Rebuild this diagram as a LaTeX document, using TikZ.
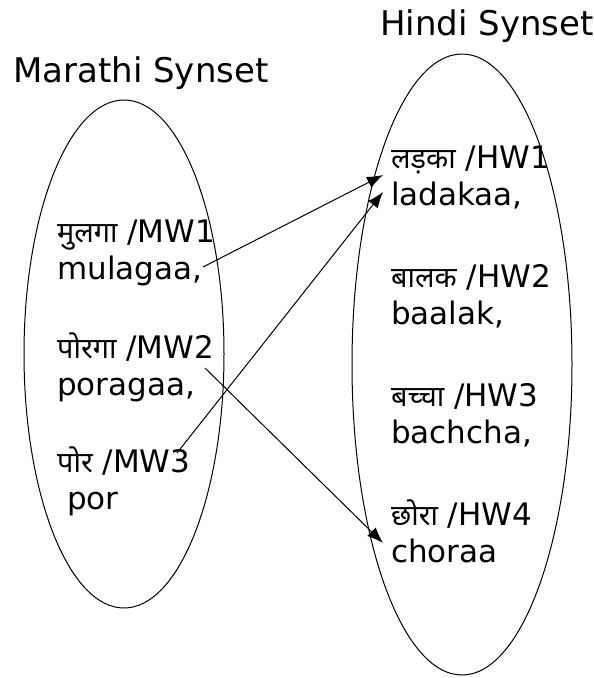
\documentclass[tikz,border=0pt]{standalone}
\usepackage{fontspec}
\setmainfont{DejaVu Sans}
\newfontfamily\deva[Script=Devanagari,Scale=0.93]{Noto Sans}
\usetikzlibrary{arrows.meta,shapes.geometric}
\tikzset{
  synset/.style={draw,ellipse,line width=1pt,inner sep=0pt},
  title/.style={anchor=base west,inner sep=0pt,font=\fontsize{34}{40}\selectfont},
  word/.style={anchor=base west,inner sep=0pt,align=left,font=\fontsize{31}{37}\selectfont},
  link/.style={-{Latex[length=16pt,width=12pt]},line width=1pt},
}
\begin{document}
\begin{tikzpicture}[x=1pt,y=-1pt]
\useasboundingbox (0,0) rectangle (594,678);
% the two synsets
\node[synset,minimum width=200pt,minimum height=508pt] (marathi) at (124,354) {};
\node[synset,minimum width=220pt,minimum height=621pt] (hindi) at (462,364.5) {};
\node[title] (mtitle) at (13,82) {Marathi Synset};
\node[title] (htitle) at (380,35) {Hindi Synset};
% marathi words (base is the second line)
\node[word] (mw1) at (57,279) {{\deva मुलगा} /MW1\\mulagaa,};
\node[word] (mw2) at (57,395) {{\deva पोरगा} /MW2\\poragaa,};
\node[word] (mw3) at (57,509) {{\deva पोर} /MW3\\~por};
% hindi words
\node[word] (hw1) at (391,205) {{\deva लड़का} /HW1\\ladakaa,};
\node[word] (hw2) at (391,324) {{\deva बालक} /HW2\\baalak,};
\node[word] (hw3) at (391,443) {{\deva बच्चा} /HW3\\bachcha,};
\node[word] (hw4) at (391,562) {{\deva छोरा} /HW4\\choraa};
% links between the words
\coordinate (mw1out) at (203,267);
\coordinate (mw2out) at (205,368);
\coordinate (mw3out) at (177,453);
\coordinate (hw1in) at (383,175);
\coordinate (hw1low) at (383,192);
\coordinate (hw4in) at (383,543);
\draw[link] (mw1out) -- (hw1in);
\draw[link] (mw3out) -- (hw1low);
\draw[link] (mw2out) -- (hw4in);
\end{tikzpicture}
\end{document}
